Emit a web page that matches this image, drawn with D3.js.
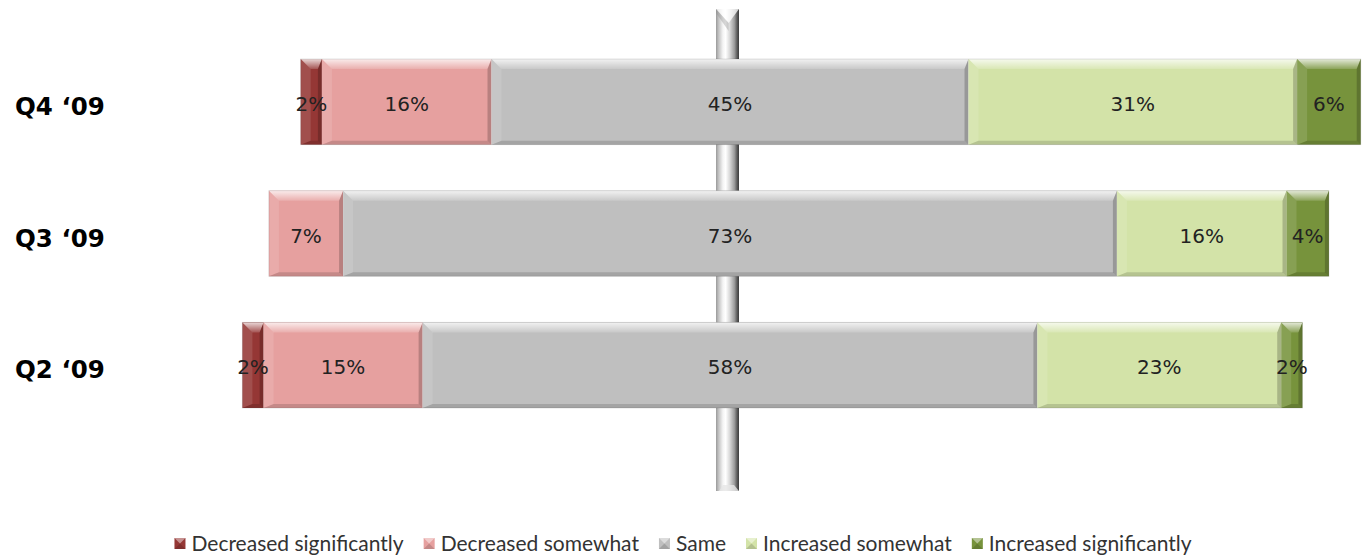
<!DOCTYPE html>
<html>
<head>
<meta charset="utf-8">
<script src="https://cdn.jsdelivr.net/npm/d3@7/dist/d3.min.js"></script>
<style>
  html, body { margin: 0; padding: 0; background: #ffffff; }
  svg { display: block; }
</style>
</head>
<body>
<svg id="chart" width="1364" height="557"></svg>
<script>
// Survey quarters (top to bottom)
const categories = ["Q4 \u201809", "Q3 \u201809", "Q2 \u201809"];

// Response categories, left to right
const seriesNames = [
  "Decreased significantly",
  "Decreased somewhat",
  "Same",
  "Increased somewhat",
  "Increased significantly"
];
const seriesColors = ["#953735", "#e6a09f", "#bfbfbf", "#d3e3a8", "#77933c"];

// Share of respondents (%) per quarter
const decreasedSignificantly = [2, 0, 2];
const decreasedSomewhat      = [16, 7, 15];
const same                   = [45, 73, 58];
const increasedSomewhat      = [31, 16, 23];
const increasedSignificantly = [6, 4, 2];

const seriesValues = [
  decreasedSignificantly,
  decreasedSomewhat,
  same,
  increasedSomewhat,
  increasedSignificantly
];

const svg = d3.select("#chart");
const defs = svg.append("defs");

// Diverging layout: the "Same" segment is centred on zero
const x = d3.scaleLinear().domain([-50, 50]).range([200, 1260]);
const y = d3.scaleBand()
  .domain(categories)
  .range([36, 431])
  .paddingInner(0.35)
  .paddingOuter(0.175);

const rows = categories.map((cat, i) => {
  const vals = seriesValues.map(s => s[i]);
  let start = -(vals[0] + vals[1] + vals[2] / 2);
  const segs = vals.map((v, k) => {
    const seg = { cat, k, value: v, x0: start, x1: start + v };
    start += v;
    return seg;
  });
  return { cat, segs };
});

// ---- central pillar (category axis at zero) ----
const pg = defs.append("linearGradient").attr("id", "pillarGrad")
  .attr("x1", 0).attr("x2", 1).attr("y1", 0).attr("y2", 0);
[[0, "#9a9a9a"], [0.12, "#c4c4c4"], [0.3, "#f4f4f4"], [0.42, "#ffffff"],
 [0.6, "#d8d8d8"], [0.8, "#9c9c9c"], [0.92, "#5a5a5a"], [1, "#3c3c3c"]]
  .forEach(([o, c]) => pg.append("stop").attr("offset", o).attr("stop-color", c));

const pillarW = 23;
const px0 = x(0) - 2.5 - pillarW / 2;
const pillarTop = 9, pillarBottom = 491;
const pillar = svg.append("g").attr("class", "pillar");
pillar.append("rect")
  .attr("x", px0).attr("y", pillarTop)
  .attr("width", pillarW).attr("height", pillarBottom - pillarTop)
  .attr("fill", "url(#pillarGrad)");
// bevelled top end
pillar.append("path")
  .attr("d", `M${px0},${pillarTop} L${px0 + pillarW},${pillarTop} L${px0 + pillarW * 0.55},${pillarTop + 14} Z`)
  .attr("fill", "#ffffff").attr("opacity", 0.75);
pillar.append("path")
  .attr("d", `M${px0},${pillarTop} L${px0 + pillarW * 0.55},${pillarTop + 14} L${px0 + pillarW * 0.55},${pillarTop + 22} L${px0},${pillarTop + 4} Z`)
  .attr("fill", "#8a8a8a").attr("opacity", 0.35);
// bevelled bottom end
pillar.append("path")
  .attr("d", `M${px0 + 3},${pillarBottom} L${px0 + 7},${pillarBottom - 6} L${px0 + pillarW - 5},${pillarBottom - 6} L${px0 + pillarW},${pillarBottom} Z`)
  .attr("fill", "#e6e6e6").attr("opacity", 0.8);

// ---- bevel gradients ----
const topGrad = defs.append("linearGradient").attr("id", "topGrad")
  .attr("x1", 0).attr("x2", 0).attr("y1", 0).attr("y2", 1);
topGrad.append("stop").attr("offset", 0).attr("stop-color", "#fff").attr("stop-opacity", 0.8);
topGrad.append("stop").attr("offset", 1).attr("stop-color", "#fff").attr("stop-opacity", 0.15);

function bevelPaths(x0, y0, w, h) {
  const bt = Math.min(10, w / 2), br = Math.min(4, w / 4), bb = 4;
  const x1 = x0 + w, y1 = y0 + h;
  return {
    top: `M${x0},${y0} L${x1},${y0} L${x1 - br},${y0 + bt} L${x0 + bt},${y0 + bt} Z`,
    left: `M${x0},${y0} L${x0 + bt},${y0 + bt} L${x0 + bt},${y1 - bb} L${x0},${y1} Z`,
    right: `M${x1},${y0} L${x1},${y1} L${x1 - br},${y1 - bb} L${x1 - br},${y0 + bt} Z`,
    bottom: `M${x0},${y1} L${x0 + bt},${y1 - bb} L${x1 - br},${y1 - bb} L${x1},${y1} Z`
  };
}

// ---- bars ----
const barG = svg.append("g").attr("class", "bars");
rows.forEach(row => {
  const g = barG.append("g");
  const y0 = y(row.cat), h = y.bandwidth();
  row.segs.filter(s => s.value > 0).forEach(s => {
    const sx = x(s.x0), w = x(s.x1) - x(s.x0);
    g.append("rect")
      .attr("x", sx).attr("y", y0).attr("width", w).attr("height", h)
      .attr("fill", seriesColors[s.k]);
    const b = bevelPaths(sx, y0, w, h);
    g.append("path").attr("d", b.left).attr("fill", "#fff").attr("opacity", 0.12);
    g.append("path").attr("d", b.top).attr("fill", "url(#topGrad)");
    g.append("path").attr("d", b.right).attr("fill", "#000").attr("opacity", 0.2);
    g.append("path").attr("d", b.bottom).attr("fill", "#000").attr("opacity", 0.14);
  });
  // soft outline round each bar
  g.append("rect")
    .attr("x", x(row.segs[0].x0)).attr("y", y0)
    .attr("width", x(row.segs[4].x1) - x(row.segs[0].x0)).attr("height", h)
    .attr("fill", "none").attr("stroke", "rgba(0,0,0,0.12)").attr("stroke-width", 1);
});

// ---- data labels ----
const labelG = svg.append("g").attr("class", "labels");
rows.forEach(row => {
  row.segs.filter(s => s.value > 0).forEach(s => {
    labelG.append("text")
      .attr("x", x((s.x0 + s.x1) / 2))
      .attr("y", y(row.cat) + y.bandwidth() / 2 + 9)
      .attr("text-anchor", "middle")
      .attr("font-family", "DejaVu Sans, Verdana, sans-serif")
      .attr("font-size", 20)
      .attr("fill", "#222")
      .text(s.value + "%");
  });
});

// ---- category labels ----
svg.append("g").attr("class", "categories")
  .selectAll("text").data(categories).join("text")
  .attr("x", 15)
  .attr("y", d => y(d) + y.bandwidth() / 2 + 13)
  .attr("font-family", "DejaVu Sans, Tahoma, sans-serif")
  .attr("font-weight", "bold")
  .attr("font-size", 24.5)
  .attr("fill", "#000")
  .text(d => d);

// ---- legend ----
const legend = svg.append("g").attr("class", "legend");
let cursor = 0;
const legendGap = 20;
seriesNames.forEach((name, k) => {
  const it = legend.append("g");
  it.append("rect")
    .attr("x", 0).attr("y", -13).attr("width", 11).attr("height", 11)
    .attr("fill", seriesColors[k]);
  it.append("path").attr("d", `M0,-13 L11,-13 L5.5,-7.5 Z`).attr("fill", "#fff").attr("opacity", 0.45);
  it.append("path").attr("d", `M0,-2 L11,-2 L5.5,-7.5 Z`).attr("fill", "#000").attr("opacity", 0.15);
  const t = it.append("text")
    .attr("x", 17).attr("y", 0)
    .attr("font-family", "Lato, Calibri, sans-serif")
    .attr("font-size", 21)
    .attr("fill", "#333")
    .text(name);
  const w = 17 + t.node().getComputedTextLength();
  it.attr("transform", `translate(${cursor},0)`);
  cursor += w + legendGap;
});
const legendW = cursor - legendGap;
legend.attr("transform", `translate(${683 - legendW / 2},551)`);
</script>
</body>
</html>
